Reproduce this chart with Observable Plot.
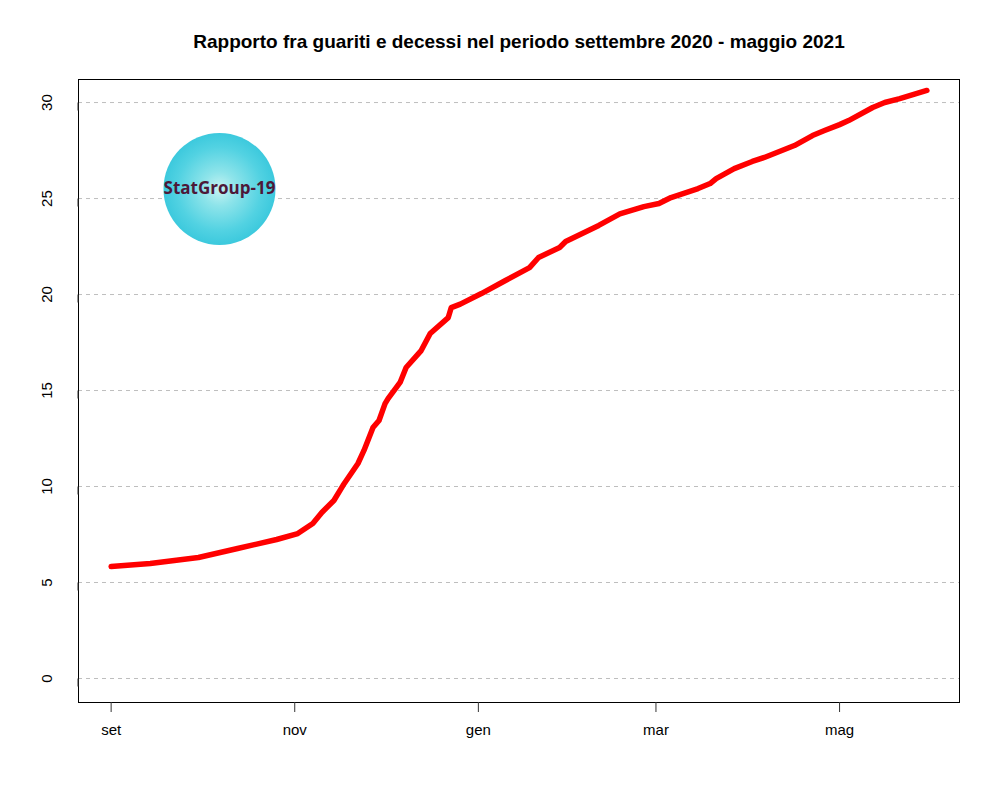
<!DOCTYPE html>
<html><head><meta charset="utf-8">
<script src="https://cdn.jsdelivr.net/npm/d3@7"></script>
<script src="https://cdn.jsdelivr.net/npm/@observablehq/plot@0.6"></script>
<style>body{margin:0;background:#fff;} #chart svg{display:block;}</style>
</head><body><div id="chart"></div>
<script>
const titleText = "Rapporto fra guariti e decessi nel periodo settembre 2020 - maggio 2021";
const dates = [
  "2020-09-01","2020-09-14","2020-09-30","2020-10-13","2020-10-26","2020-11-02","2020-11-07","2020-11-10",
  "2020-11-14","2020-11-17","2020-11-22","2020-11-24","2020-11-27","2020-11-29","2020-12-01","2020-12-02",
  "2020-12-06","2020-12-08","2020-12-13","2020-12-16","2020-12-22","2020-12-23","2020-12-26","2021-01-02",
  "2021-01-10","2021-01-18","2021-01-21","2021-01-28","2021-01-30","2021-02-10","2021-02-17","2021-02-25",
  "2021-03-02","2021-03-06","2021-03-15","2021-03-19","2021-03-21","2021-03-27","2021-04-02","2021-04-06",
  "2021-04-16","2021-04-22","2021-04-26","2021-05-01","2021-05-04","2021-05-12","2021-05-16","2021-05-21",
  "2021-05-30"
];
const values = [
  5.83, 5.99, 6.30, 6.77, 7.24, 7.55, 8.07, 8.65,
  9.27, 10.05, 11.2, 11.88, 13.07, 13.44, 14.32, 14.58,
  15.42, 16.2, 17.08, 17.97, 18.8, 19.32, 19.5, 20.05,
  20.73, 21.4, 21.93, 22.45, 22.76, 23.6, 24.2, 24.58,
  24.74, 25.05, 25.52, 25.78, 26.04, 26.56, 26.93, 27.14,
  27.76, 28.28, 28.54, 28.85, 29.06, 29.74, 30.0, 30.2,
  30.63
];
const yTicks = [0, 5, 10, 15, 20, 25, 30];
const xTickDates = ["2020-09-01","2020-11-01","2021-01-01","2021-03-01","2021-05-01"];
const xTickLabels = ["set","nov","gen","mar","mag"];
const logoLabel = ["StatGroup-19"];
const logoDate = ["2020-10-07"];
const logoValue = [25.5];

const data = dates.map((d, i) => ({date: new Date(d), value: values[i]}));
const xTicks = xTickDates.map(d => new Date(d));
const labelMap = new Map(xTicks.map((d, i) => [+d, xTickLabels[i]]));
const logo = logoLabel.map((t, i) => ({label: t, date: new Date(logoDate[i]), value: logoValue[i]}));

const [x0, x1] = d3.extent(data, d => d.date);
const pad = (x1 - x0) * 0.04;
const font = "'Liberation Sans', Arial, Helvetica, sans-serif";

const svg = Plot.plot({
  width: 1000,
  height: 800,
  marginLeft: 78,
  marginRight: 41,
  marginTop: 79,
  marginBottom: 98,
  style: {fontFamily: font, fontSize: "15px", color: "#000", background: "#fff"},
  x: {type: "utc", domain: [new Date(+x0 - pad), new Date(+x1 + pad)]},
  y: {domain: [-1.25, 31.2]},
  marks: [
    Plot.ruleY(yTicks, {stroke: "#bebebe", strokeDasharray: "4,4", strokeWidth: 1}),
    Plot.dot(logo, {x: "date", y: "value", r: 56, fill: "url(#logoGrad)", stroke: "none"}),
    Plot.text(logo, {x: "date", y: "value", text: "label", fill: "#4d1838", fontWeight: "bold", fontSize: 17, fontFamily: "'Open Sans', 'DejaVu Sans', sans-serif"}),
    Plot.line(data, {x: "date", y: "value", stroke: "#ff0000", strokeWidth: 5.5, strokeLinejoin: "round", strokeLinecap: "round"}),
    Plot.frame({stroke: "#000", strokeWidth: 1}),
    Plot.axisY(yTicks, {anchor: "left", tickSize: 8, tickPadding: 23, rotate: -90, textAnchor: "middle", lineAnchor: "middle", fontSize: 15, stroke: "#333", label: null, tickFormat: d => String(d)}),
    Plot.axisX(xTicks, {anchor: "bottom", tickSize: 10, tickPadding: 12, fontSize: 15, stroke: "#333", label: null, tickFormat: d => labelMap.get(+d)}),
    Plot.text([titleText], {text: d => d, frameAnchor: "top", lineAnchor: "middle", dy: -38, fontWeight: "bold", fontSize: 19, fill: "#000"})
  ]
});

const defs = d3.select(svg).insert("defs", ":first-child");
const g = defs.append("radialGradient").attr("id", "logoGrad").attr("cx", "50%").attr("cy", "50%").attr("r", "50%");
g.append("stop").attr("offset", "0%").attr("stop-color", "#c6f3f2");
g.append("stop").attr("offset", "30%").attr("stop-color", "#8ee4ea");
g.append("stop").attr("offset", "75%").attr("stop-color", "#52d2e2");
g.append("stop").attr("offset", "100%").attr("stop-color", "#3cc9dd");

document.getElementById("chart").appendChild(svg);
</script>
</body></html>
